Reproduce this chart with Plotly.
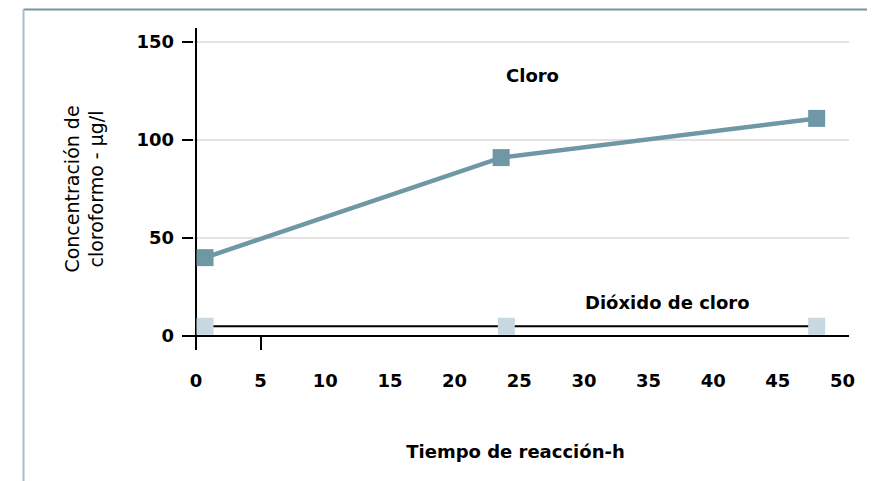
import plotly.graph_objects as go

# Data
tiempo_cloro = [0.7, 23.6, 48]
cloro = [40, 91, 111]
tiempo_dioxido = [0.7, 24, 48]
dioxido = [5, 5, 5]
x_ticks = [0, 5, 10, 15, 20, 25, 30, 35, 40, 45, 50]
x_ticktext = ["0", "5", "10", "15", "20", "25", "30", "35", "40", "45", "50"]
y_ticks = [0, 50, 100, 150]
y_ticktext = ["0", "50", "100", "150"]

FONT = "DejaVu Sans"

fig = go.Figure()
fig.add_trace(go.Scatter(
    x=tiempo_cloro, y=cloro, mode="lines+markers", name="Cloro",
    line=dict(color="#6f97a5", width=4.5),
    marker=dict(symbol="square", size=17, color="#6f97a5"),
    showlegend=False,
))
fig.add_trace(go.Scatter(
    x=tiempo_dioxido, y=dioxido, mode="lines+markers", name="Dióxido de cloro",
    line=dict(color="black", width=2),
    marker=dict(symbol="square", size=17, color="#c8d8e0"),
    showlegend=False,
))

fig.add_annotation(x=26, y=133, text="Cloro", showarrow=False,
                   font=dict(family=FONT, size=18, color="black", weight="bold"))
fig.add_annotation(x=36.5, y=17, text="Dióxido de cloro", showarrow=False,
                   font=dict(family=FONT, size=18, color="black", weight="bold"))

# outer frame
fig.add_shape(type="line", xref="paper", yref="paper",
              x0=-0.2376, x1=1.06, y0=1.0575, y1=1.0575,
              line=dict(color="#7893a3", width=2))
fig.add_shape(type="line", xref="paper", yref="paper",
              x0=-0.2376, x1=-0.2376, y0=1.0575, y1=-0.45,
              line=dict(color="#a6bccb", width=2))

fig.update_layout(
    width=875, height=481,
    margin=dict(l=174, r=34, t=20, b=139),
    paper_bgcolor="white", plot_bgcolor="white",
    font=dict(family=FONT, size=18, color="black"),
    xaxis=dict(
        range=[-1.08, 50.5],
        tickmode="array", tickvals=x_ticks, ticktext=x_ticktext,
        ticks="outside", ticklen=14, tickcolor="rgba(0,0,0,0)",
        tickfont=dict(family=FONT, size=18, weight="bold"),
        showgrid=False, showline=False,
        zeroline=True, zerolinecolor="black", zerolinewidth=2,
        minor=dict(tickmode="array", tickvals=[5], ticks="inside",
                   ticklen=14, tickwidth=2, tickcolor="black", showgrid=False),
        title=dict(text="Tiempo de reacción-h", standoff=55,
                   font=dict(family=FONT, size=18, weight="bold")),
    ),
    yaxis=dict(
        range=[-7.1, 157.1],
        tickmode="array", tickvals=y_ticks, ticktext=y_ticktext,
        ticks="inside", ticklen=11, tickwidth=2, tickcolor="black",
        ticklabelstandoff=7,
        tickfont=dict(family=FONT, size=18, weight="bold"),
        showgrid=True, gridcolor="#e8e0e0", gridwidth=1.5,
        showline=False,
        zeroline=True, zerolinecolor="black", zerolinewidth=2,
        title=dict(text="Concentración de<br>cloroformo - µg/l", standoff=27,
                   font=dict(family=FONT, size=19)),
    ),
)

fig.write_html("out.html")
